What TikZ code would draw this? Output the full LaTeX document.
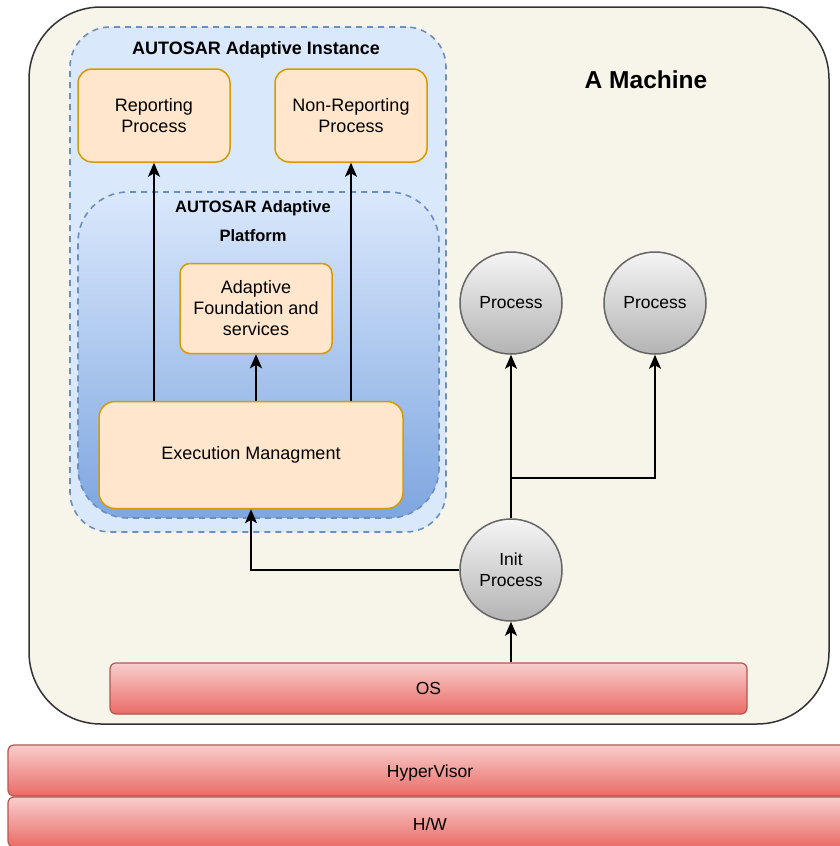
\documentclass[tikz,border=0pt]{standalone}
\usepackage{fontspec}
\setmainfont{Liberation Sans}
\usetikzlibrary{arrows.meta}
\definecolor{machfill}{HTML}{F7F5EA}
\definecolor{machline}{HTML}{333333}
\definecolor{bluefill}{HTML}{DAE8FC}
\definecolor{bluedark}{HTML}{7EA6E0}
\definecolor{blueline}{HTML}{6C8EBF}
\definecolor{orfill}{HTML}{FFE6CC}
\definecolor{orline}{HTML}{D79B00}
\definecolor{grtop}{HTML}{F5F5F5}
\definecolor{grbot}{HTML}{B3B3B3}
\definecolor{grline}{HTML}{666666}
\definecolor{redtop}{HTML}{F8CECC}
\definecolor{redbot}{HTML}{EA6B66}
\definecolor{redline}{HTML}{B85450}
\tikzset{
  machine/.style={draw=machline, line width=1.5pt, fill=machfill, rounded corners=72pt, inner sep=0pt},
  instbox/.style={draw=blueline, line width=1.6pt, dash pattern=on 6pt off 5pt, fill=bluefill, rounded corners=40pt, inner sep=0pt},
  platbox/.style={draw=blueline, line width=1.6pt, dash pattern=on 6pt off 5pt, top color=bluefill, bottom color=bluedark, rounded corners=50pt, inner sep=0pt},
  obox/.style={draw=orline, line width=1.5pt, fill=orfill, rounded corners=14pt, align=center, inner sep=0pt, font=\fontsize{18}{21}\selectfont},
  proc/.style={circle, draw=grline, line width=1.5pt, top color=grtop, bottom color=grbot, minimum size=102pt, inner sep=0pt, align=center, font=\fontsize{17.5}{21}\selectfont},
  redbar/.style={draw=redline, line width=1.2pt, top color=redtop, bottom color=redbot, rounded corners=6pt, inner sep=0pt, font=\fontsize{17.5}{20}\selectfont},
  title/.style={font=\bfseries\fontsize{18}{21}\selectfont, inner sep=0pt},
  conn/.style={line width=2pt, -{Stealth[length=14pt,width=12pt,inset=3.5pt]}},
  plain/.style={line width=2pt}
}
\begin{document}
\begin{tikzpicture}[x=1pt,y=-1pt]
\useasboundingbox (0,0) rectangle (840,846);
\clip (0,0) rectangle (840,846);
\fill[white] (0,0) rectangle (840,846);
% machine
\node[machine, minimum width=800pt, minimum height=717pt] (machine) at (429,365.5) {};
\node[font=\bfseries\fontsize{24.5}{28}\selectfont, inner sep=0pt] (mtitle) at (646,80) {A Machine};
% instance
\node[instbox, minimum width=376pt, minimum height=505pt] (inst) at (258,279.5) {};
\node[title] (insttitle) at (256,50) {AUTOSAR Adaptive Instance};
\node[obox, minimum width=152pt, minimum height=93pt] (rep) at (154,115.5) {Reporting\\Process};
\node[obox, minimum width=152pt, minimum height=93pt] (nonrep) at (351,115.5) {Non-Reporting\\Process};
% platform
\node[platbox, minimum width=361pt, minimum height=326pt] (plat) at (258.5,355) {};
\node[title, font=\bfseries\fontsize{16.5}{20}\selectfont] (plattitle1) at (253,208) {AUTOSAR Adaptive};
\node[title, font=\bfseries\fontsize{16.5}{20}\selectfont] (plattitle2) at (253,236) {Platform};
\node[obox, minimum width=152pt, minimum height=90pt, rounded corners=10pt] (found) at (256,308.5) {Adaptive\\Foundation and\\services};
\node[obox, minimum width=304pt, minimum height=107pt, rounded corners=16pt] (em) at (251,455) {Execution Managment};
% processes
\node[proc] (p1) at (511,303) {Process};
\node[proc] (p2) at (655,303) {Process};
\node[proc] (init) at (511,570) {Init\\Process};
% bars
\node[redbar, minimum width=637pt, minimum height=51pt] (os) at (428.5,688.5) {OS};
\node[redbar, minimum width=840pt, minimum height=51pt] (hv) at (428,770.5) {};
\node[font=\fontsize{17.5}{20}\selectfont, inner sep=0pt] (hvlabel) at (430,773) {HyperVisor};
\node[redbar, minimum width=840pt, minimum height=50pt] (hw) at (428,822) {};
\node[font=\fontsize{17.5}{20}\selectfont, inner sep=0pt] (hwlabel) at (430,824) {H/W};
% connectors
\draw[conn] (em.north -| rep.south) -- (rep.south);
\draw[conn] (em.north -| nonrep.south) -- (nonrep.south);
\draw[conn] (em.north -| found.south) -- (found.south);
\draw[conn] (init.north) -- (p1.south);
\coordinate (br) at (511,478);
\draw[conn] (br) -| (p2.south);
\draw[conn] (init.west) -| (em.south);
\draw[conn] (os.north -| init.south) -- (init.south);
\end{tikzpicture}
\end{document}
